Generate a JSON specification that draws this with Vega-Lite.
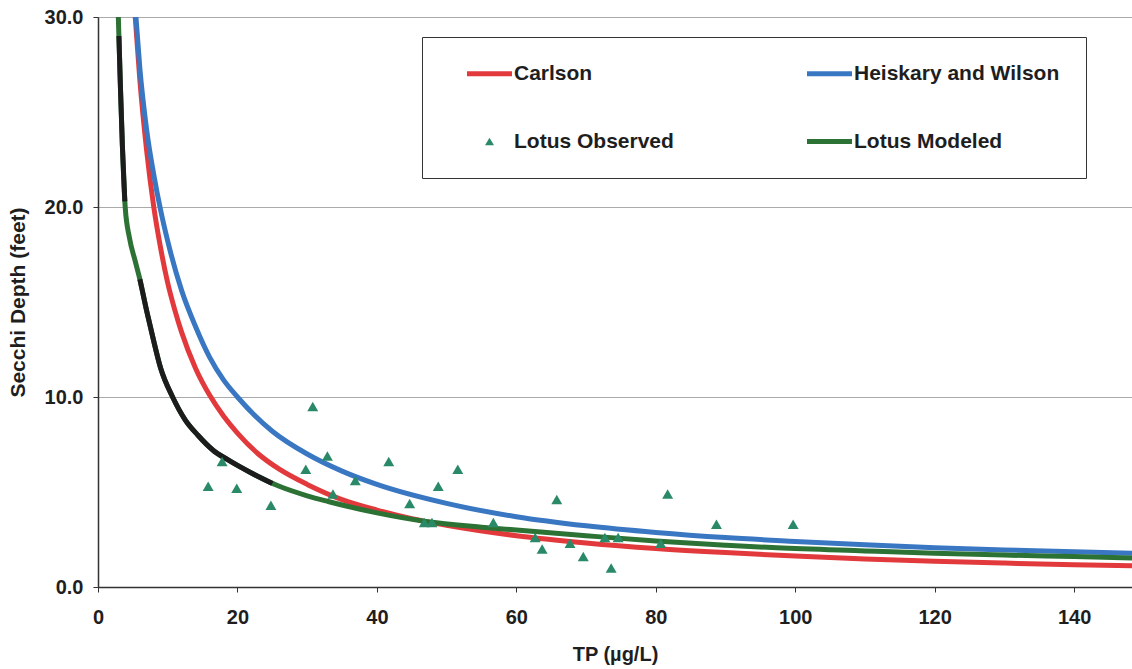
{
  "$schema": "https://vega.github.io/schema/vega-lite/v6.json",
  "width": 1034,
  "height": 570,
  "autosize": {"type": "none"},
  "padding": {"left": 98, "top": 17, "right": 0, "bottom": 82},
  "background": "white",
  "config": {"view": {"stroke": null}, "font": "Liberation Sans"},
  "datasets": {
    "curves": [
      {"series": "Carlson", "tp": 5.3, "sd": 30.2},
      {"series": "Carlson", "tp": 6, "sd": 26.7},
      {"series": "Carlson", "tp": 7, "sd": 22.9},
      {"series": "Carlson", "tp": 8, "sd": 20.0},
      {"series": "Carlson", "tp": 9, "sd": 17.8},
      {"series": "Carlson", "tp": 10, "sd": 16.0},
      {"series": "Carlson", "tp": 11, "sd": 14.6},
      {"series": "Carlson", "tp": 12, "sd": 13.4},
      {"series": "Carlson", "tp": 14, "sd": 11.5},
      {"series": "Carlson", "tp": 16, "sd": 10.1},
      {"series": "Carlson", "tp": 18, "sd": 9.0},
      {"series": "Carlson", "tp": 20, "sd": 8.1},
      {"series": "Carlson", "tp": 23, "sd": 7.0},
      {"series": "Carlson", "tp": 26, "sd": 6.2},
      {"series": "Carlson", "tp": 30, "sd": 5.4},
      {"series": "Carlson", "tp": 35, "sd": 4.6},
      {"series": "Carlson", "tp": 40, "sd": 4.05},
      {"series": "Carlson", "tp": 45, "sd": 3.6},
      {"series": "Carlson", "tp": 50, "sd": 3.25},
      {"series": "Carlson", "tp": 60, "sd": 2.7},
      {"series": "Carlson", "tp": 70, "sd": 2.32},
      {"series": "Carlson", "tp": 80, "sd": 2.03},
      {"series": "Carlson", "tp": 90, "sd": 1.81},
      {"series": "Carlson", "tp": 100, "sd": 1.63},
      {"series": "Carlson", "tp": 110, "sd": 1.48},
      {"series": "Carlson", "tp": 120, "sd": 1.36},
      {"series": "Carlson", "tp": 130, "sd": 1.26},
      {"series": "Carlson", "tp": 140, "sd": 1.17},
      {"series": "Carlson", "tp": 148.3, "sd": 1.12},
      {"series": "Heiskary and Wilson", "tp": 5.4, "sd": 30.2},
      {"series": "Heiskary and Wilson", "tp": 6, "sd": 27.3},
      {"series": "Heiskary and Wilson", "tp": 7, "sd": 24.0},
      {"series": "Heiskary and Wilson", "tp": 8, "sd": 21.7},
      {"series": "Heiskary and Wilson", "tp": 9, "sd": 19.8},
      {"series": "Heiskary and Wilson", "tp": 10, "sd": 18.2},
      {"series": "Heiskary and Wilson", "tp": 12, "sd": 15.6},
      {"series": "Heiskary and Wilson", "tp": 14, "sd": 13.7},
      {"series": "Heiskary and Wilson", "tp": 16, "sd": 12.1},
      {"series": "Heiskary and Wilson", "tp": 18, "sd": 10.9},
      {"series": "Heiskary and Wilson", "tp": 20, "sd": 10.0},
      {"series": "Heiskary and Wilson", "tp": 25, "sd": 8.2},
      {"series": "Heiskary and Wilson", "tp": 30, "sd": 7.0},
      {"series": "Heiskary and Wilson", "tp": 35, "sd": 6.1},
      {"series": "Heiskary and Wilson", "tp": 40, "sd": 5.4},
      {"series": "Heiskary and Wilson", "tp": 50, "sd": 4.4},
      {"series": "Heiskary and Wilson", "tp": 60, "sd": 3.7},
      {"series": "Heiskary and Wilson", "tp": 70, "sd": 3.22},
      {"series": "Heiskary and Wilson", "tp": 80, "sd": 2.87},
      {"series": "Heiskary and Wilson", "tp": 90, "sd": 2.6},
      {"series": "Heiskary and Wilson", "tp": 100, "sd": 2.4},
      {"series": "Heiskary and Wilson", "tp": 110, "sd": 2.22},
      {"series": "Heiskary and Wilson", "tp": 120, "sd": 2.07},
      {"series": "Heiskary and Wilson", "tp": 130, "sd": 1.95},
      {"series": "Heiskary and Wilson", "tp": 140, "sd": 1.85},
      {"series": "Heiskary and Wilson", "tp": 148.3, "sd": 1.78},
      {"series": "Lotus Modeled", "tp": 2.9, "sd": 30.2},
      {"series": "Lotus Modeled", "tp": 3.2, "sd": 26.5},
      {"series": "Lotus Modeled", "tp": 3.5, "sd": 23.2},
      {"series": "Lotus Modeled", "tp": 3.9, "sd": 20.0},
      {"series": "Lotus Modeled", "tp": 4.5, "sd": 18.4},
      {"series": "Lotus Modeled", "tp": 5.3, "sd": 17.2},
      {"series": "Lotus Modeled", "tp": 6.0, "sd": 16.2},
      {"series": "Lotus Modeled", "tp": 7.0, "sd": 14.5},
      {"series": "Lotus Modeled", "tp": 7.7, "sd": 13.4},
      {"series": "Lotus Modeled", "tp": 9.0, "sd": 11.5},
      {"series": "Lotus Modeled", "tp": 10.7, "sd": 10.0},
      {"series": "Lotus Modeled", "tp": 12.5, "sd": 8.8},
      {"series": "Lotus Modeled", "tp": 14.3, "sd": 8.0},
      {"series": "Lotus Modeled", "tp": 16.5, "sd": 7.2},
      {"series": "Lotus Modeled", "tp": 18.6, "sd": 6.7},
      {"series": "Lotus Modeled", "tp": 22, "sd": 6.0},
      {"series": "Lotus Modeled", "tp": 26, "sd": 5.3},
      {"series": "Lotus Modeled", "tp": 30, "sd": 4.8},
      {"series": "Lotus Modeled", "tp": 33, "sd": 4.5},
      {"series": "Lotus Modeled", "tp": 40, "sd": 3.9},
      {"series": "Lotus Modeled", "tp": 47, "sd": 3.45},
      {"series": "Lotus Modeled", "tp": 55, "sd": 3.15},
      {"series": "Lotus Modeled", "tp": 60, "sd": 3.0},
      {"series": "Lotus Modeled", "tp": 70, "sd": 2.7},
      {"series": "Lotus Modeled", "tp": 80, "sd": 2.42},
      {"series": "Lotus Modeled", "tp": 90, "sd": 2.2},
      {"series": "Lotus Modeled", "tp": 97.4, "sd": 2.06},
      {"series": "Lotus Modeled", "tp": 110, "sd": 1.9},
      {"series": "Lotus Modeled", "tp": 120, "sd": 1.78},
      {"series": "Lotus Modeled", "tp": 130, "sd": 1.68},
      {"series": "Lotus Modeled", "tp": 140, "sd": 1.6},
      {"series": "Lotus Modeled", "tp": 148.3, "sd": 1.53}
    ],
    "dark": [
      {"seg": "a", "tp": 3.0, "sd": 29.0},
      {"seg": "a", "tp": 3.2, "sd": 26.5},
      {"seg": "a", "tp": 3.5, "sd": 23.2},
      {"seg": "a", "tp": 3.85, "sd": 20.3},
      {"seg": "b", "tp": 6.0, "sd": 16.2},
      {"seg": "b", "tp": 7.0, "sd": 14.5},
      {"seg": "b", "tp": 7.7, "sd": 13.4},
      {"seg": "b", "tp": 9.0, "sd": 11.5},
      {"seg": "b", "tp": 10.7, "sd": 10.0},
      {"seg": "b", "tp": 12.5, "sd": 8.8},
      {"seg": "b", "tp": 14.3, "sd": 8.0},
      {"seg": "b", "tp": 16.5, "sd": 7.2},
      {"seg": "b", "tp": 18.6, "sd": 6.7},
      {"seg": "b", "tp": 22, "sd": 6.0},
      {"seg": "b", "tp": 25, "sd": 5.45}
    ],
    "observed": [
      {"tp": 15.8, "sd": 5.3},
      {"tp": 17.8, "sd": 6.6},
      {"tp": 19.9, "sd": 5.2},
      {"tp": 24.8, "sd": 4.3},
      {"tp": 29.8, "sd": 6.2},
      {"tp": 30.8, "sd": 9.5},
      {"tp": 32.9, "sd": 6.9},
      {"tp": 33.7, "sd": 4.9},
      {"tp": 36.9, "sd": 5.6},
      {"tp": 41.7, "sd": 6.6},
      {"tp": 44.7, "sd": 4.4},
      {"tp": 46.8, "sd": 3.4},
      {"tp": 47.9, "sd": 3.4},
      {"tp": 48.8, "sd": 5.3},
      {"tp": 51.6, "sd": 6.2},
      {"tp": 56.7, "sd": 3.4},
      {"tp": 62.7, "sd": 2.6},
      {"tp": 63.7, "sd": 2.0},
      {"tp": 65.8, "sd": 4.6},
      {"tp": 67.7, "sd": 2.3},
      {"tp": 69.6, "sd": 1.6},
      {"tp": 72.7, "sd": 2.6},
      {"tp": 73.6, "sd": 1.0},
      {"tp": 74.6, "sd": 2.6},
      {"tp": 80.7, "sd": 2.3},
      {"tp": 81.7, "sd": 4.9},
      {"tp": 88.7, "sd": 3.3},
      {"tp": 99.7, "sd": 3.3}
    ]
  },
  "encoding": {
    "x": {
      "field": "tp", "type": "quantitative", "title": "TP (µg/L)",
      "scale": {"domain": [0, 148.3], "nice": false, "zero": true},
      "axis": {
        "values": [0, 20, 40, 60, 80, 100, 120, 140], "grid": false,
        "labelFont": "Liberation Sans", "labelFontWeight": "bold", "labelFontSize": 20, "labelColor": "#1e1e1e",
        "labelFlush": false, "labelPadding": 15, "tickSize": 5, "tickColor": "#333", "domainColor": "#333", "domainWidth": 1.5,
        "titleFont": "Liberation Sans", "titleFontWeight": "bold", "titleFontSize": 20, "titleColor": "#1e1e1e", "titlePadding": 17
      }
    },
    "y": {
      "field": "sd", "type": "quantitative", "title": "Secchi Depth (feet)",
      "scale": {"domain": [0, 30], "nice": false},
      "axis": {
        "values": [0, 10, 20, 30], "format": ".1f", "grid": true, "gridColor": "#aaaaaa", "gridWidth": 1,
        "labelFont": "Liberation Sans", "labelFontWeight": "bold", "labelFontSize": 20, "labelColor": "#1e1e1e",
        "labelPadding": 10, "tickSize": 5, "tickColor": "#333", "domainColor": "#333", "domainWidth": 1.5,
        "titleFont": "Liberation Sans", "titleFontWeight": "bold", "titleFontSize": 21, "titleColor": "#1e1e1e", "titlePadding": 16
      }
    }
  },
  "layer": [
    {
      "data": {"name": "curves"},
      "mark": {"type": "line", "strokeWidth": 5, "interpolate": "monotone", "clip": true},
      "encoding": {
        "color": {
          "field": "series", "type": "nominal",
          "scale": {"domain": ["Carlson", "Heiskary and Wilson", "Lotus Observed", "Lotus Modeled"], "range": ["#e23a3c", "#3a77c2", "#2a8a68", "#2d7235"]},
          "legend": {
            "title": null, "orient": "none", "legendX": 324, "legendY": 20, "columns": 2, "direction": "horizontal",
            "strokeColor": "#333", "fillColor": "white", "padding": 26,
            "symbolType": "stroke", "symbolSize": 2025, "symbolStrokeWidth": 5, "symbolOffset": 31,
            "labelOffset": 14, "labelLimit": 400, "labelFont": "Liberation Sans", "labelFontWeight": "bold", "labelFontSize": 21, "labelColor": "#1e1e1e",
            "columnPadding": 114, "rowPadding": 46,
            "encode": {
              "symbols": {
                "update": {
                  "shape": {"signal": "datum.value === 'Lotus Observed' ? 'triangle-up' : 'stroke'"},
                  "size": {"signal": "datum.value === 'Lotus Observed' ? 80 : 2025"},
                  "fill": {"signal": "datum.value === 'Lotus Observed' ? '#2a8a68' : 'transparent'"},
                  "strokeWidth": {"signal": "datum.value === 'Lotus Observed' ? 0 : 5"}
                }
              }
            }
          }
        }
      }
    },
    {
      "data": {"name": "dark"},
      "mark": {"type": "line", "strokeWidth": 5, "color": "#1c1c1c", "interpolate": "monotone", "clip": true},
      "encoding": {"detail": {"field": "seg", "type": "nominal"}}
    },
    {
      "data": {"name": "observed"},
      "mark": {"type": "point", "shape": "triangle-up", "filled": true, "size": 120, "color": "#2a8a68", "opacity": 1},
      "encoding": {}
    }
  ]
}
